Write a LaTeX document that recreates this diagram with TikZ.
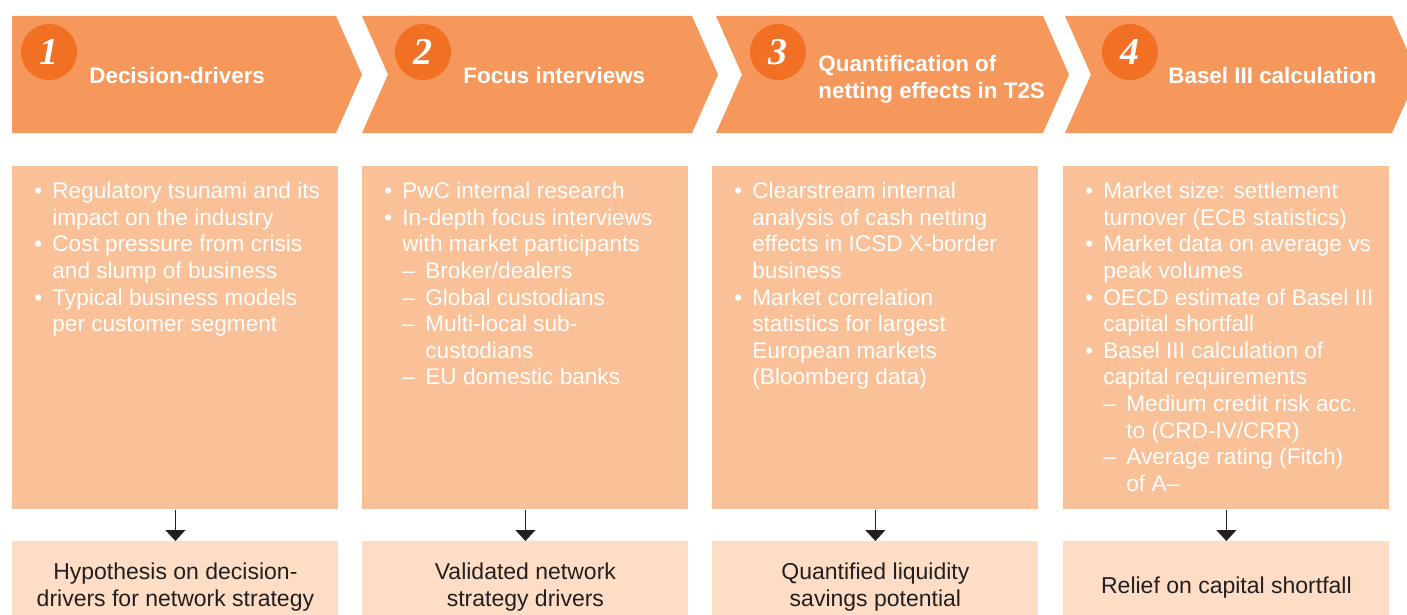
\documentclass[tikz,border=0pt]{standalone}
\usepackage{fontspec}
\setmainfont{Liberation Sans}
\newfontfamily\numfont{Liberation Serif}
\usetikzlibrary{arrows.meta}

\definecolor{chev}{RGB}{246,152,92}
\definecolor{disc}{RGB}{241,112,36}
\definecolor{body}{RGB}{250,192,151}
\definecolor{res}{RGB}{253,221,197}
\definecolor{ink}{RGB}{35,31,32}

\newcommand{\itm}{\makebox[9pt][l]{•}}
\newcommand{\ind}{\hspace*{9pt}}
\newcommand{\sbi}{\hspace*{9pt}\makebox[11.5pt][l]{–}}
\newcommand{\sbc}{\hspace*{20.5pt}}

\tikzset{arr/.style={draw=ink,line width=0.6pt,-{Triangle[width=10pt,length=5.5pt]}}}

\begin{document}
\begin{tikzpicture}[x=0.5pt,y=-0.5pt]

      \useasboundingbox (0,0) rectangle (1407,615);

      % step chevrons
      \begin{scope}[fill=chev]
        \fill (12,16) -- (336,16) -- (362,74.5) -- (336,133) -- (12,133) -- cycle;
        \fill (362,16) -- (692,16) -- (718,74.5) -- (692,133) -- (362,133) -- (388,74.5) -- cycle;
        \fill (716,16) -- (1043,16) -- (1069,74.5) -- (1043,133) -- (716,133) -- (742,74.5) -- cycle;
        \fill (1065,16) -- (1392,16) -- (1418,74.5) -- (1392,133) -- (1065,133) -- (1091,74.5) -- cycle;
      \end{scope}

      \begin{scope}[every node/.style={circle,fill=disc,minimum size=28pt,inner sep=0pt,text=white,
          font=\numfont\bfseries\itshape\fontsize{19pt}{19pt}\selectfont}]
        \node (c1) at (49,52)   {1};
        \node (c2) at (423,52)  {2};
        \node (c3) at (778,52)  {3};
        \node (c4) at (1130,52) {4};
      \end{scope}

      \begin{scope}[every node/.style={anchor=west,align=left,inner sep=0pt,text=white,
          font=\bfseries\fontsize{11.2pt}{13.5pt}\selectfont}]
        \node (h1) at (89,75)    {Decision-drivers};
        \node (h2) at (463,75)   {Focus interviews};
        \node (h3) at (818,79)   {Quantification of\\netting effects in T2S};
        \node (h4) at (1168,75)  {Basel III calculation};
      \end{scope}

      \begin{scope}[every node/.style={rectangle,fill=body,anchor=north west,
          minimum width=163pt,minimum height=171.5pt,inner sep=0pt}]
        \node (b1) at (12,166)   {};
        \node (b2) at (362,166)  {};
        \node (b3) at (712,166)  {};
        \node (b4) at (1063,166) {};
      \end{scope}

      \begin{scope}[every node/.style={anchor=north west,align=left,inner sep=0pt,text=white,
          font=\fontsize{11.3pt}{13.3pt}\selectfont}]
        \node (l1) at (34,182) {\itm Regulatory tsunami and its\\
          \ind impact on the industry\\
          \itm Cost pressure from crisis\\
          \ind and slump of business\\
          \itm Typical business models\\
          \ind per customer segment};
        \node (l2) at (384,182) {\itm PwC internal research\\
          \itm In-depth focus interviews\\
          \ind with market participants\\
          \sbi Broker/dealers\\
          \sbi Global custodians\\
          \sbi Multi-local sub-\\
          \sbc custodians\\
          \sbi EU domestic banks};
        \node (l3) at (734,182) {\itm Clearstream internal\\
          \ind analysis of cash netting\\
          \ind effects in ICSD X-border\\
          \ind business\\
          \itm Market correlation\\
          \ind statistics for largest\\
          \ind European markets\\
          \ind (Bloomberg data)};
        \node (l4) at (1085,182) {\itm Market size: settlement\\
          \ind turnover (ECB statistics)\\
          \itm Market data on average vs\\
          \ind peak volumes\\
          \itm OECD estimate of Basel III\\
          \ind capital shortfall\\
          \itm Basel III calculation of\\
          \ind capital requirements\\
          \sbi Medium credit risk acc.\\
          \sbc to (CRD-IV/CRR)\\
          \sbi Average rating (Fitch)\\
          \sbc of A–};
      \end{scope}

      \begin{scope}[every node/.style={rectangle,fill=res,anchor=north west,
          minimum width=163pt,minimum height=46pt,inner sep=0pt,align=center,text=ink,
          font=\fontsize{11.5pt}{13.5pt}\selectfont}]
        \node (r1) at (12,541)   {Hypothesis on decision-\\drivers for network strategy};
        \node (r2) at (362,541)  {Validated network\\strategy drivers};
        \node (r3) at (712,541)  {Quantified liquidity\\savings potential};
        \node (r4) at (1063,541) {Relief on capital shortfall};
      \end{scope}

      \draw[arr] (b1) -- (r1);
      \draw[arr] (b2) -- (r2);
      \draw[arr] (b3) -- (r3);
      \draw[arr] (b4) -- (r4);

    \end{tikzpicture}
\end{document}
